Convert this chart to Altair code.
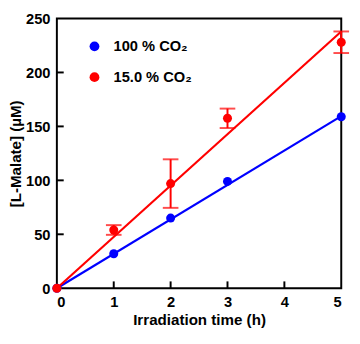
import altair as alt
import pandas as pd

# data
time_h = [0, 1, 2, 3, 5]
malate_100 = [0, 32, 65, 99, 159]
malate_15 = [0, 54, 97, 157.5, 228]
err_15 = [0, 4.5, 22.5, 9, 10]
fit_x = [0, 5]
fit_100 = [0, 159.5]
fit_15 = [0, 238]
series = ["100 % CO₂", "15.0 % CO₂"]
colors = ["#0000FF", "#FF0000"]
x_ticks = [1, 2, 3, 4]
y_ticks = [50, 100, 150, 200]

W, H = 291, 276

pts = pd.DataFrame(
    {"t": time_h * 2,
     "v": malate_100 + malate_15,
     "s": [series[0]] * len(time_h) + [series[1]] * len(time_h),
     "order": [0] * len(time_h) + [1] * len(time_h)}
)
err = pd.DataFrame(
    {"t": time_h,
     "lo": [m - e for m, e in zip(malate_15, err_15)],
     "hi": [m + e for m, e in zip(malate_15, err_15)]}
)
err = err[[e > 0 for e in err_15]]
fits = pd.DataFrame(
    {"t": fit_x * 2,
     "v": fit_100 + fit_15,
     "s": [series[0]] * 2 + [series[1]] * 2}
)

xs = alt.Scale(domain=[0, 5], nice=False, zero=False)
ys = alt.Scale(domain=[0, 250], nice=False, zero=False)
cs = alt.Scale(domain=series, range=colors)

font = "Liberation Sans"

xaxis = alt.Axis(
    title="Irradiation time (h)", values=[0, 1, 2, 3, 4, 5], format="d", tickSize=0,
    labelPadding=7, titlePadding=3, domain=False, grid=False,
)
yaxis = alt.Axis(
    title="[L-Malate] (µM)", values=[0, 50, 100, 150, 200, 250], format="d", tickSize=0,
    labelPadding=7, titlePadding=2, domain=False, grid=False,
)
legend = alt.Legend(
    title=None, orient="none", legendX=31, legendY=21,
    symbolSize=100, symbolType="circle", labelFontSize=15,
    labelFont=font, labelFontWeight="bold", labelColor="black",
    labelOffset=12, rowPadding=15.5, padding=0, symbolStrokeWidth=0,
)

X = lambda f: alt.X(f, scale=xs, axis=xaxis)
Y = lambda f: alt.Y(f, scale=ys, axis=yaxis)
C = alt.Color("s:N", scale=cs, sort=series, legend=legend)

xt = alt.Chart(pd.DataFrame({"t": x_ticks})).mark_rule(color="black", strokeWidth=2).encode(
    x=X("t:Q"), y=alt.value(H), y2=alt.value(H - 7)
)
yt = alt.Chart(pd.DataFrame({"v": y_ticks})).mark_rule(color="black", strokeWidth=2).encode(
    y=Y("v:Q"), x=alt.value(0), x2=alt.value(7)
)

lines = alt.Chart(fits).mark_line(strokeWidth=2.2).encode(
    x=X("t:Q"), y=Y("v:Q"), color=C, detail="s:N",
)

bars = alt.Chart(err).mark_rule(color="#FF0000", strokeWidth=2).encode(
    x=X("t:Q"), y=Y("lo:Q"), y2="hi:Q"
)
caps_hi = alt.Chart(err).mark_tick(color="#FF0000", orient="horizontal",
                                   size=16, thickness=2).encode(
    x=X("t:Q"), y=Y("hi:Q")
)
caps_lo = alt.Chart(err).mark_tick(color="#FF0000", orient="horizontal",
                                   size=16, thickness=2).encode(
    x=X("t:Q"), y=Y("lo:Q")
)

points = alt.Chart(pts).mark_point(filled=True, opacity=1, size=85, shape="circle").encode(
    x=X("t:Q"), y=Y("v:Q"), color=C, order=alt.Order("order:Q"),
)

chart = (
    alt.layer(xt, yt, lines, bars, caps_hi, caps_lo, points)
    .properties(
        width=W, height=H,
        autosize=alt.AutoSizeParams(type="none"),
        padding={"left": 50, "top": 7, "right": 11, "bottom": 40},
        background="white",
    )
    .configure_view(stroke="black", strokeWidth=2)
    .configure_axis(
        labelFont=font, labelFontSize=15, labelFontWeight="bold", labelColor="black",
        titleFont=font, titleFontSize=15.5, titleFontWeight="bold", titleColor="black",
    )
)

chart.save("out.html", embed_options={"renderer": "svg", "actions": False})
